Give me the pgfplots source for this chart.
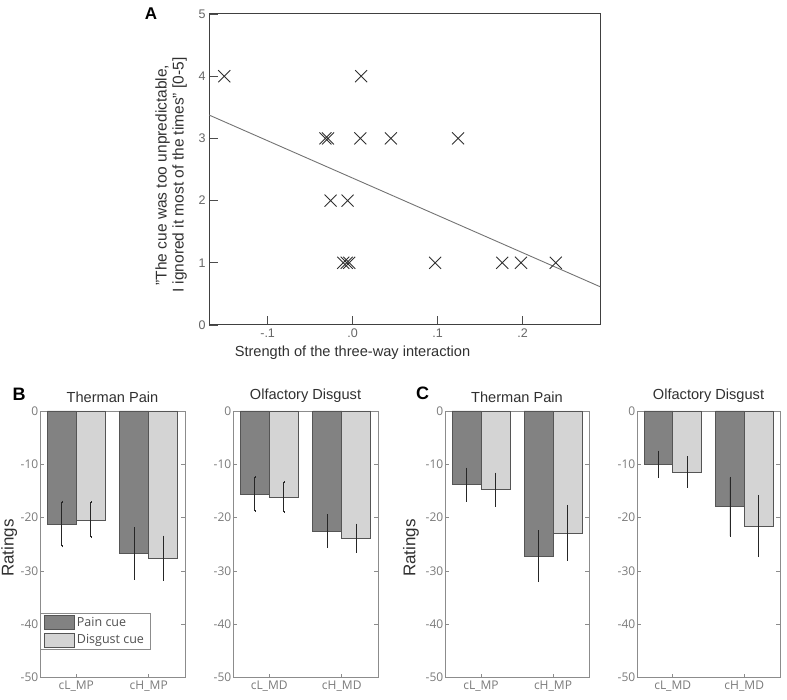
\documentclass[border=0pt]{standalone}
\usepackage{fontspec}
\setmainfont{Liberation Sans}
\newfontfamily\osans{Open Sans}
\usepackage{pgfplots}
\pgfplotsset{compat=1.18}
\definecolor{darkbar}{HTML}{828282}
\definecolor{lightbar}{HTML}{D4D4D4}
\definecolor{baredge}{HTML}{555555}
\definecolor{axgray}{HTML}{8C8C8C}
\definecolor{tickgray}{HTML}{7A7A7A}
\definecolor{txt}{HTML}{303030}

\pgfplotsset{
  barpanel/.style={
    scale only axis, width=145pt, height=266.7pt,
    xmin=0.5, xmax=2.5, ymin=-50, ymax=0,
    ybar=0pt, bar width=0.4,
    xtick={1,2}, xtick pos=left,
    ytick={-50,-40,-30,-20,-10,0}, yticklabels={-50,-40,-30,-20,-10,0},
    tick align=inside, major tick length=4pt,
    axis line style={axgray, line width=0.7pt},
    tick style={axgray, line width=0.7pt},
    ticklabel style={font=\osans\fontsize{12}{14}\selectfont, text=tickgray},
    yticklabel style={inner sep=1.5pt},
    title style={font=\fontsize{14.6}{17}\selectfont, text=txt, at={(0.5,1)}, anchor=south, yshift=0.5pt, inner sep=2pt},
    ylabel style={font=\fontsize{17}{19}\selectfont, text=txt, anchor=center},
    error bars/y dir=both, error bars/y explicit,
    error bars/error bar style={line width=0.6pt, black!85},
    error bars/error mark options={black!85, mark size=1pt},
  },
  darkst/.style={fill=darkbar, draw=baredge, line width=0.6pt},
  lightst/.style={fill=lightbar, draw=baredge, line width=0.6pt},
}

\begin{document}
\begin{tikzpicture}
\useasboundingbox (0,0) rectangle (787pt,700pt);

% ---------------- Panel A ----------------
\begin{axis}[
  at={(209pt,375pt)}, anchor=south west, scale only axis,
  width=391pt, height=311pt,
  xmin=-0.169, xmax=0.291, ymin=0, ymax=5,
  xtick={-0.1,0,0.1,0.2}, xticklabels={-.1,.0,.1,.2},
  ytick={0,1,2,3,4,5}, yticklabels={0,1,2,3,4,5},
  xtick pos=left, ytick pos=left,
  tick align=inside, major tick length=9pt,
  axis line style={black!75, line width=1pt},
  tick style={black!70, line width=0.8pt},
  ticklabel style={font=\fontsize{12.5}{14}\selectfont, text=black!60},
  xlabel={Strength of the three-way interaction},
  xlabel style={font=\fontsize{14.6}{17}\selectfont, text=txt, at={(axis description cs:0.367,-0.09)}, anchor=center},
  ylabel={"The cue was too unpredictable,\\ I ignored it most of the times" [0-5]},
  ylabel style={font=\fontsize{15.5}{17}\selectfont, text=txt, at={(axis description cs:-0.097,0.482)}, anchor=center, align=center},
]
\addplot[no marks, color=black!55, line width=0.9pt] coordinates {(-0.169,3.376) (0.291,0.616)};
\addplot[only marks, mark=x, mark size=8.5pt, mark options={line width=0.9pt, draw=txt}] coordinates {
  (-0.151,4) (0.010,4)
  (-0.032,3) (-0.029,3) (0.009,3) (0.045,3) (0.124,3)
  (-0.026,2) (-0.006,2)
  (-0.011,1) (-0.007,1) (-0.004,1) (0.097,1) (0.176,1) (0.198,1) (0.239,1)
};
\end{axis}
\node[font=\bfseries\fontsize{17}{20}\selectfont] at (151pt,686pt) {A};

% ---------------- Panel B ----------------
\begin{axis}[barpanel, at={(40pt,22.3pt)}, anchor=south west,
  xticklabels={cL\_MP,cH\_MP}, title={Therman Pain},
  ylabel={Ratings}, ylabel style={at={(axis description cs:-0.212,0.486)}},
  legend style={at={(0,0.105)}, anchor=south west, draw=axgray, line width=0.7pt,
    font=\osans\fontsize{12.5}{14}\selectfont, text=txt!85, inner xsep=4pt, inner ysep=2pt,
    row sep=3pt, cells={anchor=west}},
  legend image code/.code={\draw[#1] (0pt,-7pt) rectangle (30pt,7pt);},
]
\addplot[darkst] coordinates {(1,-21.2) +- (0,4.2) (2,-26.7) +- (0,4.75)};
\addplot[lightst] coordinates {(1,-20.4) +- (0,3.25) (2,-27.6) +- (0,4.05)};
\legend{Pain cue, Disgust cue}
\end{axis}
\begin{axis}[barpanel, at={(233pt,22.3pt)}, anchor=south west,
  xticklabels={cL\_MD,cH\_MD}, title={Olfactory Disgust}]
\addplot[darkst] coordinates {(1,-15.55) +- (0,3.15) (2,-22.5) +- (0,3.0)};
\addplot[lightst] coordinates {(1,-16.15) +- (0,2.75) (2,-23.85) +- (0,2.55)};
\end{axis}
\node[font=\bfseries\fontsize{18}{20}\selectfont] at (19pt,306pt) {B};

% ---------------- Panel C ----------------
\begin{axis}[barpanel, at={(445pt,22.3pt)}, anchor=south west, width=144pt,
  xticklabels={cL\_MP,cH\_MP}, title={Therman Pain},
  ylabel={Ratings}, ylabel style={at={(axis description cs:-0.236,0.486)}}]
\addplot[darkst] coordinates {(1,-13.8) +- (0,3.0) (2,-27.2) +- (0,4.7)};
\addplot[lightst] coordinates {(1,-14.75) +- (0,3.0) (2,-22.85) +- (0,5.05)};
\end{axis}
\begin{axis}[barpanel, at={(637pt,22.3pt)}, anchor=south west, width=143pt,
  xticklabels={cL\_MD,cH\_MD}, title={Olfactory Disgust}]
\addplot[darkst] coordinates {(1,-10.0) +- (0,2.4) (2,-17.95) +- (0,5.45)};
\addplot[lightst] coordinates {(1,-11.45) +- (0,2.75) (2,-21.55) +- (0,5.65)};
\end{axis}
\node[font=\bfseries\fontsize{18}{20}\selectfont] at (422.5pt,307pt) {C};
\end{tikzpicture}
\end{document}
